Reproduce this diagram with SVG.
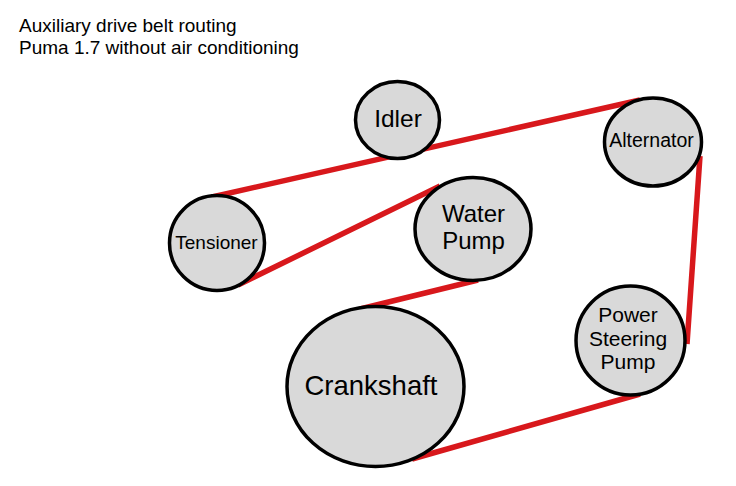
<svg xmlns="http://www.w3.org/2000/svg" width="736" height="486" viewBox="0 0 736 486">
<style>
text{font-family:"Liberation Sans",Arial,sans-serif;fill:#000}
.p{fill:#d9d9d9;stroke:#000;stroke-width:3.5}
.b{stroke:#d8181c;stroke-width:5.5;fill:none}
.m{text-anchor:middle}
</style>
<rect width="736" height="486" fill="#fff"/>
<!-- The belt sits behind the pulleys, which hide its ends -->
<g id="belt"><path class="b" d="M212 197L640 100M700 156L687 344M640 394L412 459M478 280L360 309M440 186L238 285"/></g>
<g id="title"><text x="19" y="32" font-size="19">Auxiliary drive belt routing</text><text x="19" y="54" font-size="19">Puma 1.7 without air conditioning</text></g>
<g id="idler"><ellipse class="p" cx="397.500" cy="120" rx="42" ry="38.500"/><text class="m" x="398" y="127" font-size="24.500">Idler</text></g>
<g id="alternator"><ellipse class="p" cx="653" cy="142" rx="48.500" ry="44"/><text class="m" x="651.500" y="147" font-size="19.500">Alternator</text></g>
<g id="tensioner"><ellipse class="p" cx="217" cy="243" rx="47.500" ry="47.500"/><text class="m" x="216.500" y="249" font-size="19">Tensioner</text></g>
<g id="water-pump"><ellipse class="p" cx="473" cy="229" rx="58" ry="51.500"/><text class="m" x="473.500" y="222" font-size="24">Water</text><text class="m" x="473.500" y="249" font-size="24">Pump</text></g>
<g id="crankshaft"><ellipse class="p" cx="375.500" cy="386.500" rx="88.500" ry="80"/><text class="m" x="371" y="395" font-size="27.500">Crankshaft</text></g>
<g id="power-steering-pump"><ellipse class="p" cx="630.500" cy="340.500" rx="54.500" ry="54.500"/><text class="m" x="628" y="322" font-size="21">Power</text><text class="m" x="628" y="346" font-size="21">Steering</text><text class="m" x="628" y="369" font-size="21">Pump</text></g>
</svg>
